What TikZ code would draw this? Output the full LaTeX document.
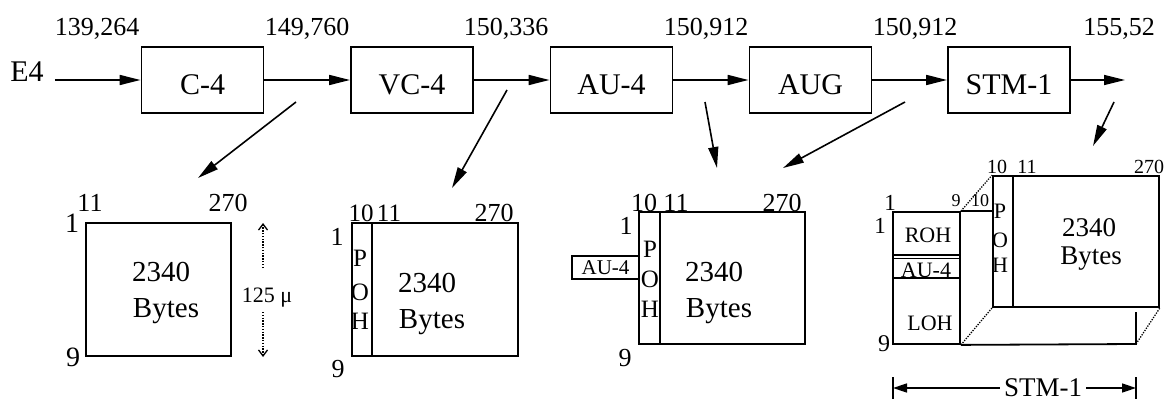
\documentclass[tikz,border=0pt]{standalone}
\usepackage{fontspec}
\setmainfont{Liberation Serif}
\usetikzlibrary{arrows.meta}
\newcommand\myfs[1]{\fontsize{#1pt}{#1pt}\selectfont}
\begin{document}
\begin{tikzpicture}[x=1pt,y=-1pt,
  blk/.style={draw,line width=1.8pt,minimum width=122pt,minimum height=66pt,inner sep=0pt,text height=30pt,text depth=0pt,font=\myfs{30}},
  arr/.style={line width=1.6pt,-{Triangle[length=21pt,width=10pt]}},
  barr/.style={line width=1.6pt,-{Triangle[length=14pt,width=9pt]}},
  dotarr/.style={line width=1.4pt,dash pattern=on 1.4pt off 1.4pt,-{Straight Barb[length=6pt,width=9pt,line width=1.3pt]}},
  frm/.style={draw,line width=1.8pt,inner sep=0pt},
  thin/.style={line width=1.8pt},
  dots/.style={line width=1.3pt,dash pattern=on 1.3pt off 1.3pt},
  lbl/.style={inner sep=0pt,text depth=0pt,font=\myfs{#1}},
]
\useasboundingbox (0,0) rectangle (1165,401);

% ---------- top chain ----------
\node[lbl=30] (e4) at (27,72) {E4};
\node[blk] (c4)  at (202.5,80) {C-4};
\node[blk] (vc4) at (412,80)   {VC-4};
\node[blk] (au4) at (611.5,80) {AU-4};
\node[blk] (aug) at (810.5,80) {AUG};
\node[blk] (stm) at (1009,80)  {STM-1};
\coordinate (out) at (1125,80);

\draw[arr] ([xshift=11pt]e4.east |- c4.west) -- (c4.west);
\draw[arr] (c4) -- (vc4);
\draw[arr] (vc4) -- (au4);
\draw[arr] (au4) -- (aug);
\draw[arr] (aug) -- (stm);
\draw[arr] (stm.east) -- (out);

\node[lbl=26] (r1) at (97,27)   {139,264};
\node[lbl=26] (r2) at (307,27)  {149,760};
\node[lbl=26] (r3) at (506,27)  {150,336};
\node[lbl=26] (r4) at (706,27)  {150,912};
\node[lbl=26] (r5) at (915,27)  {150,912};
\node[lbl=26] (r6) at (1119,27) {155,52};

% ---------- diagonal pointers ----------
\coordinate (d1a) at (296,102);  \coordinate (d1b) at (198,178);
\coordinate (d2a) at (507,90);   \coordinate (d2b) at (452,188);
\coordinate (d3a) at (705,102);  \coordinate (d3b) at (717,168);
\coordinate (d4a) at (905,102);  \coordinate (d4b) at (783,168);
\coordinate (d5a) at (1114,102); \coordinate (d5b) at (1093,146);
\draw[arr] (d1a) -- (d1b);
\draw[arr] (d2a) -- (d2b);
\draw[arr] (d3a) -- (d3b);
\draw[arr] (d4a) -- (d4b);
\draw[arr] (d5a) -- (d5b);

% ---------- frame 1 (C-4) ----------
\node[frm,minimum width=145pt,minimum height=133pt] (f1) at (158.5,289.5) {};
\node[lbl=26] (f1c11) at (90,203) {11};
\node[lbl=26] (f1c270) at (228,203) {270};
\node[lbl=28] (f1r1) at (72,223) {1};
\node[lbl=28] (f1r9) at (73,357) {9};
\node[lbl=29] (f1a) at (161,272) {2340};
\node[lbl=29] (f1b) at (166,308) {Bytes};
\node[lbl=22] (mu) at (267,295) {125 μ};
\coordinate (muu1) at (263,268); \coordinate (muu2) at (263,223);
\coordinate (mud1) at (263,312); \coordinate (mud2) at (263,357);
\draw[dotarr] (muu1) -- (muu2);
\draw[dotarr] (mud1) -- (mud2);

% ---------- frame 2 (VC-4) ----------
\node[frm,minimum width=166pt,minimum height=133pt] (f2) at (435,289.5) {};
\draw[thin] ([xshift=21pt]f2.north west) -- ([xshift=21pt]f2.south west);
\node[lbl=25] (f2c10) at (361,213) {10};
\node[lbl=25] (f2c11) at (389,213) {11};
\node[lbl=26] (f2c270) at (494,213) {270};
\node[lbl=26] (f2r1) at (337,237) {1};
\node[lbl=26] (f2r9) at (338,369) {9};
\node[lbl=25] (f2p) at (360,258) {P};
\node[lbl=25] (f2o) at (360,292) {O};
\node[lbl=25] (f2h) at (360,321) {H};
\node[lbl=29] (f2a) at (427,283) {2340};
\node[lbl=29] (f2b) at (432,319) {Bytes};

% ---------- frame 3 (AU-4 / AUG) ----------
\node[frm,minimum width=166pt,minimum height=132pt] (f3) at (722,278) {};
\draw[thin] ([xshift=22pt]f3.north west) -- ([xshift=22pt]f3.south west);
\node[frm,minimum width=67pt,minimum height=23pt,font=\myfs{21}] (au4s) at (605.5,267.5) {AU-4};
\node[lbl=26] (f3c10) at (644,203) {10};
\node[lbl=26] (f3c11) at (676,203) {11};
\node[lbl=26] (f3c270) at (782,203) {270};
\node[lbl=26] (f3r1) at (626,226) {1};
\node[lbl=26] (f3r9) at (625,358) {9};
\node[lbl=25] (f3p) at (650,249) {P};
\node[lbl=25] (f3o) at (650,279) {O};
\node[lbl=25] (f3h) at (650,309) {H};
\node[lbl=29] (f3a) at (714,272) {2340};
\node[lbl=29] (f3b) at (719,308) {Bytes};

% ---------- frame 4 (STM-1) ----------
\node[frm,minimum width=166pt,minimum height=131pt] (sb) at (1076,241.5) {};
\draw[thin] ([xshift=21pt]sb.north west) -- ([xshift=21pt]sb.south west);
\node[frm,minimum width=67pt,minimum height=132pt] (sf) at (926.5,278) {};
\draw[line width=1.4pt] (893,255) -- (960,255);
\draw[line width=1.4pt] (893,258.5) -- (960,258.5);
\draw[thin] (893,278) -- (960,278);
\draw[thin] (sf.south east) -- (1136,344) -- (1136,312);
\draw[thin] (sf.north east) -- (sb.west |- sf.north east);
\draw[dots] (sf.north east) -- (sb.north west);
\draw[dots] (sf.south east) -- (sb.south west);
\draw[dots] (1136,344) -- (sb.south east);

\node[lbl=23] (s1t) at (890,203) {1};
\node[lbl=23] (s1l) at (880,226) {1};
\node[lbl=24] (s9l) at (884,344) {9};
\node[lbl=18] (s9t) at (956,201) {9};
\node[lbl=18] (s10t) at (980,201) {10};
\node[lbl=20] (sc10) at (997,167) {10};
\node[lbl=20] (sc11) at (1027,167) {11};
\node[lbl=20] (sc270) at (1149,167) {270};
\node[lbl=22] (sroh) at (928,235) {ROH};
\node[lbl=22] (sau4) at (926,270) {AU-4};
\node[lbl=22] (sloh) at (930,323) {LOH};
\node[lbl=22] (sp) at (1000,211) {P};
\node[lbl=22] (so) at (1000,240) {O};
\node[lbl=22] (sh) at (1000,265) {H};
\node[lbl=27] (sa) at (1089,228) {2340};
\node[lbl=27] (sbt) at (1091,256) {Bytes};

% STM-1 dimension
\coordinate (bl) at (893,388); \coordinate (br) at (1136,388);
\draw[line width=1.6pt] (893,377) -- (893,399);
\draw[line width=1.6pt] (1136,377) -- (1136,399);
\node[lbl=27,inner xsep=4pt] (stmlbl) at (1043,388) {STM-1};
\draw[barr] (stmlbl.west |- bl) -- (bl);
\draw[barr] (stmlbl.east |- br) -- (br);
\end{tikzpicture}
\end{document}
